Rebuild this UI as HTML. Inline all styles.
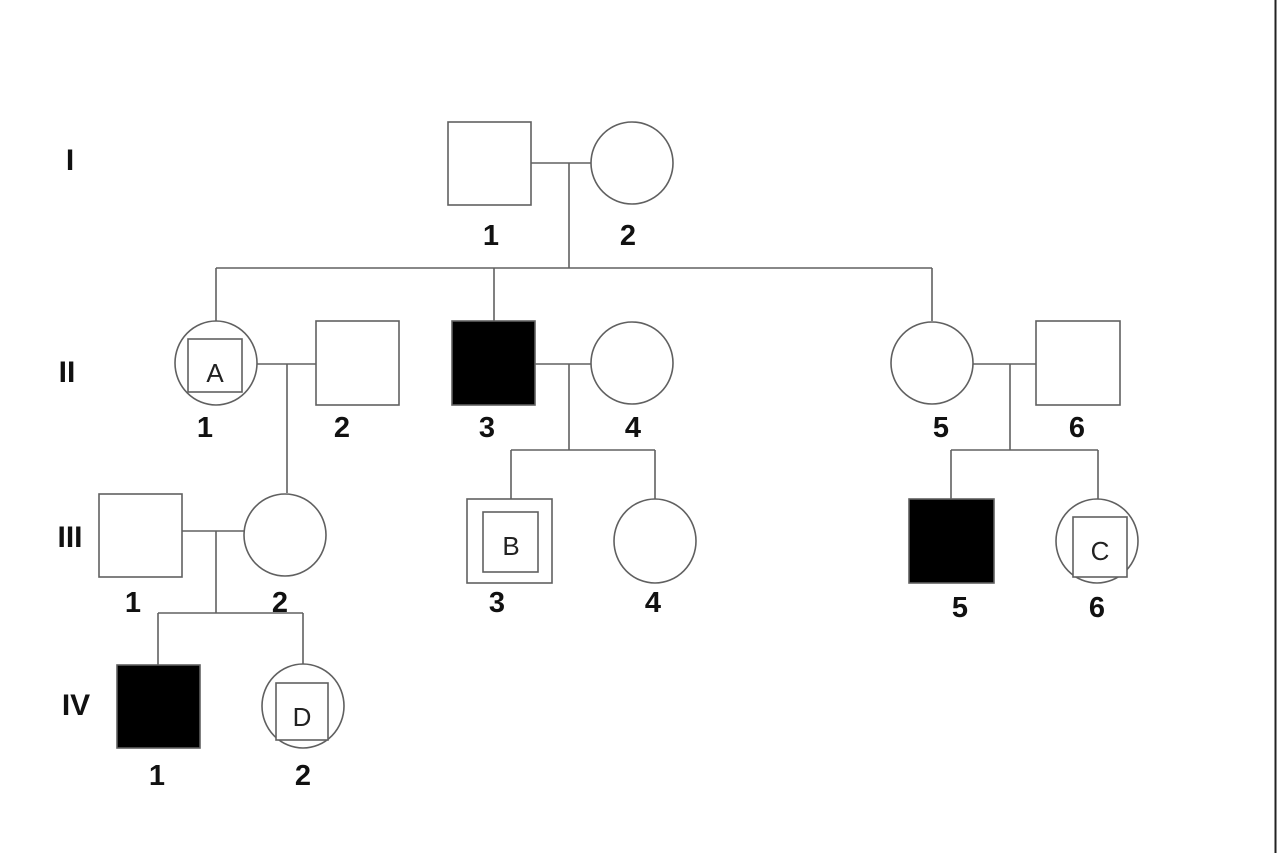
<!DOCTYPE html>
<html><head><style>body{margin:0;background:#fff}svg{display:block}</style></head><body>
<svg width="1277" height="853" viewBox="0 0 1277 853" xmlns="http://www.w3.org/2000/svg">
<rect width="1277" height="853" fill="#fff"/>
<line x1="1275.5" y1="0" x2="1275.5" y2="853" stroke="#222" stroke-width="2"/>
<g stroke="#606060" stroke-width="1.6" fill="#fff">
<!-- Gen I -->
<rect x="448" y="122" width="83" height="83"/>
<circle cx="632" cy="163" r="41"/>
<line x1="531" y1="163" x2="591" y2="163"/>
<line x1="569" y1="163" x2="569" y2="268"/>
<line x1="216" y1="268" x2="932" y2="268"/>
<line x1="216" y1="268" x2="216" y2="321"/>
<line x1="494" y1="268" x2="494" y2="321"/>
<line x1="932" y1="268" x2="932" y2="321"/>
<!-- Gen II -->
<ellipse cx="216" cy="363" rx="41" ry="42"/>
<rect x="188" y="339" width="54" height="53"/>
<line x1="257" y1="364" x2="316" y2="364"/>
<line x1="287" y1="364" x2="287" y2="493"/>
<rect x="316" y="321" width="83" height="84"/>
<rect x="452" y="321" width="83" height="84" fill="#000"/>
<circle cx="632" cy="363" r="41"/>
<line x1="535" y1="364" x2="591" y2="364"/>
<line x1="569" y1="364" x2="569" y2="450"/>
<line x1="511" y1="450" x2="655" y2="450"/>
<line x1="511" y1="450" x2="511" y2="499"/>
<line x1="655" y1="450" x2="655" y2="499"/>
<circle cx="932" cy="363" r="41"/>
<rect x="1036" y="321" width="84" height="84"/>
<line x1="973" y1="364" x2="1036" y2="364"/>
<line x1="1010" y1="364" x2="1010" y2="450"/>
<line x1="951" y1="450" x2="1098" y2="450"/>
<line x1="951" y1="450" x2="951" y2="499"/>
<line x1="1098" y1="450" x2="1098" y2="499"/>
<!-- Gen III -->
<rect x="99" y="494" width="83" height="83"/>
<circle cx="285" cy="535" r="41"/>
<line x1="182" y1="531" x2="244" y2="531"/>
<line x1="216" y1="531" x2="216" y2="613"/>
<line x1="158" y1="613" x2="303" y2="613"/>
<line x1="158" y1="613" x2="158" y2="665"/>
<line x1="303" y1="613" x2="303" y2="665"/>
<rect x="467" y="499" width="85" height="84"/>
<rect x="483" y="512" width="55" height="60"/>
<ellipse cx="655" cy="541" rx="41" ry="42"/>
<rect x="909" y="499" width="85" height="84" fill="#000"/>
<ellipse cx="1097" cy="541" rx="41" ry="42"/>
<rect x="1073" y="517" width="54" height="60"/>
<!-- Gen IV -->
<rect x="117" y="665" width="83" height="83" fill="#000"/>
<ellipse cx="303" cy="706" rx="41" ry="42"/>
<rect x="276" y="683" width="52" height="57"/>
</g>
<g font-family="Liberation Sans, sans-serif" font-size="26" fill="#222" text-anchor="middle">
<text x="215" y="382">A</text>
<text x="511" y="555">B</text>
<text x="1100" y="560">C</text>
<text x="302" y="726">D</text>
</g>
<g font-family="Liberation Sans, sans-serif" font-weight="bold" font-size="30" fill="#111" text-anchor="middle">
<text x="70" y="170" transform="scale(1 1)">I</text>
<text x="67" y="382">II</text>
<text x="70" y="547">III</text>
<text x="76" y="715">IV</text>
</g>
<g font-family="Liberation Sans, sans-serif" font-weight="bold" font-size="29" fill="#111" text-anchor="middle">
<text x="491" y="245">1</text>
<text x="628" y="245">2</text>
<text x="205" y="437">1</text>
<text x="342" y="437">2</text>
<text x="487" y="437">3</text>
<text x="633" y="437">4</text>
<text x="941" y="437">5</text>
<text x="1077" y="437">6</text>
<text x="133" y="612">1</text>
<text x="280" y="612">2</text>
<text x="497" y="612">3</text>
<text x="653" y="612">4</text>
<text x="960" y="617">5</text>
<text x="1097" y="617">6</text>
<text x="157" y="785">1</text>
<text x="303" y="785">2</text>
</g>
</svg>
</body></html>
